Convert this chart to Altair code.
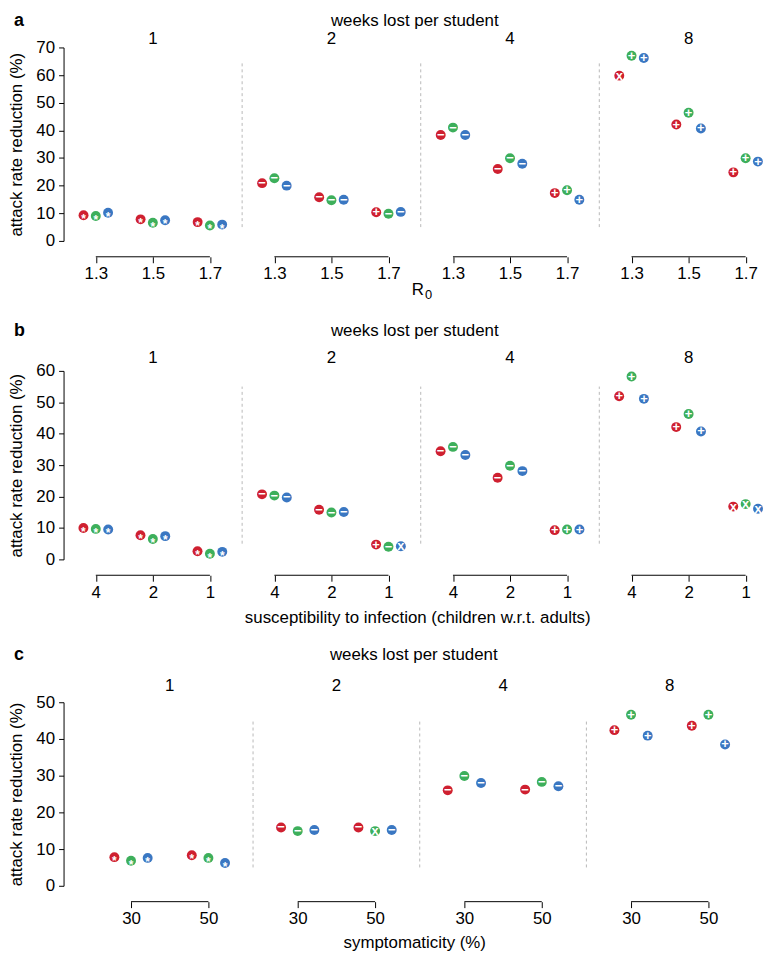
import json
import altair as alt
import pandas as pd

FONT = "Liberation Sans"

WEEKS = [1, 2, 4, 8]
SERIES = ["series 1", "series 2", "series 3"]
COLORS = ["#CF2030", "#3DAF5B", "#3A77C2"]
ROW_TITLE = "weeks lost per student"
Y_TITLE = "attack rate reduction (%)"

# ---- panel a : R0 ----
R0_TICKS = [1.3, 1.5, 1.7]
A_VALUES = {
    1: [[9.3, 9.0, 10.2], [7.8, 6.6, 7.5], [6.8, 5.6, 5.9]],
    2: [[20.9, 22.7, 20.0], [15.8, 14.7, 14.9], [10.4, 9.8, 10.5]],
    4: [[38.3, 41.0, 38.3], [26.0, 29.9, 27.9], [17.3, 18.3, 14.9]],
    8: [[59.8, 67.0, 66.2], [42.1, 46.4, 40.7], [24.8, 29.9, 28.7]],
}
A_SYMBOLS = {
    1: ["***", "***", "***"],
    2: ["---", "---", "+--"],
    4: ["---", "---", "+++"],
    8: ["x++", "+++", "+++"],
}

# ---- panel b : susceptibility (children w.r.t. adults) ----
SUSC_TICKS = ["4", "2", "1"]
B_VALUES = {
    1: [[10.0, 9.7, 9.5], [7.7, 6.5, 7.4], [2.6, 1.8, 2.4]],
    2: [[20.7, 20.3, 19.7], [15.8, 14.9, 15.1], [4.7, 4.0, 4.2]],
    4: [[34.4, 35.8, 33.2], [26.0, 29.8, 28.1], [9.3, 9.5, 9.5]],
    8: [[51.9, 58.2, 51.1], [42.1, 46.3, 40.7], [16.8, 17.6, 16.1]],
}
B_SYMBOLS = {
    1: ["***", "***", "***"],
    2: ["---", "---", "+-x"],
    4: ["---", "---", "+++"],
    8: ["+++", "+++", "xxx"],
}

# ---- panel c : symptomaticity ----
SYMPT_TICKS = [30, 50]
C_VALUES = {
    1: [[7.8, 6.8, 7.6], [8.3, 7.6, 6.2]],
    2: [[15.9, 14.9, 15.2], [15.9, 14.9, 15.2]],
    4: [[26.0, 29.9, 28.0], [26.2, 28.3, 27.1]],
    8: [[42.4, 46.6, 40.9], [43.6, 46.6, 38.5]],
}
C_SYMBOLS = {
    1: ["***", "***"],
    2: ["---", "-x-"],
    4: ["---", "---"],
    8: ["+++", "+++"],
}

GLYPH = {"*": "*", "-": "\u2212", "+": "+", "x": "x"}


def make_df(values, symbols, positions, shift):
    rows = []
    for w in WEEKS:
        for ci, pos in enumerate(positions):
            for gi, s in enumerate(SERIES):
                sym = symbols[w][ci][gi]
                rows.append(dict(week=w, pos=pos + (gi - 1) * shift,
                                 value=values[w][ci][gi], series=s,
                                 glyph=GLYPH[sym], star=(sym == "*")))
    return pd.DataFrame(rows)


ROWS = [
    dict(tag="a", df=make_df(A_VALUES, A_SYMBOLS, R0_TICKS, 0.043),
         ticks=R0_TICKS, fmt=".1f", expr=None, center=1.5, k=287.5,
         base_w=180, widths=[180, 180, 180, 163], spacer=0,
         ymax=70, height=195, dash=(5, 65),
         title_dy=-27, sub_dy=-8, xlabel=("R", "0"), xlabel_dy=50, xlabel_dx=1),
    dict(tag="b", df=make_df(B_VALUES, B_SYMBOLS, [1, 2, 3], 0.217),
         ticks=[1, 2, 3], fmt=None,
         expr=json.dumps(SUSC_TICKS) + "[datum.value - 1]",
         center=2, k=57.5, base_w=180, widths=[180, 180, 180, 163], spacer=0,
         ymax=60, height=190, dash=(5, 55),
         title_dy=-40, sub_dy=-13,
         xlabel=("susceptibility to infection (children w.r.t. adults)", ""),
         xlabel_dy=59, xlabel_dx=-3),
    dict(tag="c", df=make_df(C_VALUES, C_SYMBOLS, SYMPT_TICKS, 4.3),
         ticks=SYMPT_TICKS, fmt="d", expr=None, center=40, k=3.9,
         base_w=168, widths=[168, 168, 168, 168], spacer=23,
         ymax=50, height=185, dash=(5, 45),
         title_dy=-48, sub_dy=-16, xlabel=("symptomaticity (%)", ""),
         xlabel_dy=58, xlabel_dx=-5),
]


def y_axis(row):
    return alt.Axis(values=list(range(0, row["ymax"] + 1, 10)), title=Y_TITLE,
                    domainColor="black", tickColor="black", labelColor="black",
                    titleColor="black", labelFontSize=17, titleFontSize=17,
                    titleFontWeight="normal", tickSize=5, labelPadding=4,
                    titlePadding=10, grid=False, labelFont=FONT, titleFont=FONT)


def text_layer(txt, x, y, size=17, weight="normal", align="center"):
    return alt.Chart(pd.DataFrame({"t": [txt]})).mark_text(
        font=FONT, fontSize=size, fontWeight=weight, align=align,
        baseline="middle", color="black").encode(
        x=alt.value(x), y=alt.value(y), text="t:N")


def subpanel(row, wi, w):
    df = row["df"][row["df"].week == w]
    width = row["widths"][wi]
    h = row["height"]
    lo = row["center"] - (row["base_w"] / 2) / row["k"]
    hi = lo + width / row["k"]
    xscale = alt.Scale(domain=[lo, hi], nice=False, zero=False)
    yscale = alt.Scale(domain=[0, row["ymax"]], nice=False, zero=False)
    ax_kw = dict(values=row["ticks"], offset=16, domain=False, tickSize=6,
                 tickColor="black", tickWidth=1, labelFontSize=17,
                 labelColor="black", labelPadding=3, grid=False, title=None,
                 labelFlush=False, labelOverlap=False, labelFont=FONT)
    if row["expr"]:
        ax_kw["labelExpr"] = row["expr"]
    if row["fmt"]:
        ax_kw["format"] = row["fmt"]
    xaxis = alt.Axis(**ax_kw)
    yaxis = y_axis(row) if (wi == 0 and row["spacer"] == 0) else None

    X = lambda f: alt.X(f, scale=xscale, axis=xaxis)
    Y = lambda f: alt.Y(f, scale=yscale, axis=yaxis)

    layers = []
    if wi > 0:
        sdf = pd.DataFrame({"y0": [row["dash"][0]], "y1": [row["dash"][1]]})
        layers.append(alt.Chart(sdf).mark_rule(
            color="#b8b8b8", strokeDash=[3, 3], strokeWidth=1).encode(
            x=alt.value(0), y=Y("y0:Q"), y2="y1:Q"))
    bdf = pd.DataFrame({"lo": [row["ticks"][0]], "hi": [row["ticks"][-1]]})
    layers.append(alt.Chart(bdf).mark_rule(color="black", strokeWidth=1).encode(
        x=X("lo:Q"), x2="hi:Q", y=alt.value(h + 16)))
    layers.append(alt.Chart(df).mark_circle(size=100, opacity=1).encode(
        x=X("pos:Q"), y=Y("value:Q"),
        color=alt.Color("series:N", scale=alt.Scale(domain=SERIES, range=COLORS),
                        legend=None)))
    layers.append(alt.Chart(df).transform_filter("!datum.star").mark_text(
        color="white", fontSize=13, fontWeight="bold", baseline="middle",
        align="center", font=FONT).encode(x=X("pos:Q"), y=Y("value:Q"),
                                          text="glyph:N"))
    layers.append(alt.Chart(df).transform_filter("datum.star").mark_text(
        color="white", fontSize=12, fontWeight="bold", baseline="middle",
        align="center", dy=4, font=FONT).encode(x=X("pos:Q"), y=Y("value:Q"),
                                                text="glyph:N"))
    # sub-panel label (weeks lost)
    layers.append(text_layer(str(w), row["base_w"] / 2, row["sub_dy"]))
    if wi == 0 and row["spacer"] == 0:
        layers.append(text_layer(row["tag"], -50, row["title_dy"], 18, "bold", "left"))
    if wi == 1:
        layers.append(text_layer(ROW_TITLE, width - 6, row["title_dy"], 17))
        main, sub = row["xlabel"]
        if sub:
            layers.append(text_layer(main, width + row["xlabel_dx"] - 4,
                                     h + row["xlabel_dy"]))
            layers.append(text_layer(sub, width + row["xlabel_dx"] + 7,
                                     h + row["xlabel_dy"] + 5, 13))
        else:
            layers.append(text_layer(main, width + row["xlabel_dx"],
                                     h + row["xlabel_dy"]))
    return alt.layer(*layers).properties(width=width, height=h)


def spacer(row):
    yscale = alt.Scale(domain=[0, row["ymax"]], nice=False, zero=False)
    inv = alt.Chart(row["df"]).mark_point(opacity=0).encode(
        y=alt.Y("value:Q", scale=yscale, axis=y_axis(row)))
    lab = text_layer(row["tag"], -50, row["title_dy"], 18, "bold", "left")
    return alt.layer(inv, lab).properties(width=row["spacer"], height=row["height"])


row_charts = []
for row in ROWS:
    panels = []
    if row["spacer"]:
        panels.append(spacer(row))
    for wi, w in enumerate(WEEKS):
        panels.append(subpanel(row, wi, w))
    row_charts.append(alt.hconcat(*panels, spacing=0, bounds="flush"))

chart = alt.vconcat(*row_charts, spacing=20, bounds="full").properties(
    padding=0
).configure_view(stroke=None)

chart.save("out.html", embed_options={"renderer": "svg", "actions": False})
